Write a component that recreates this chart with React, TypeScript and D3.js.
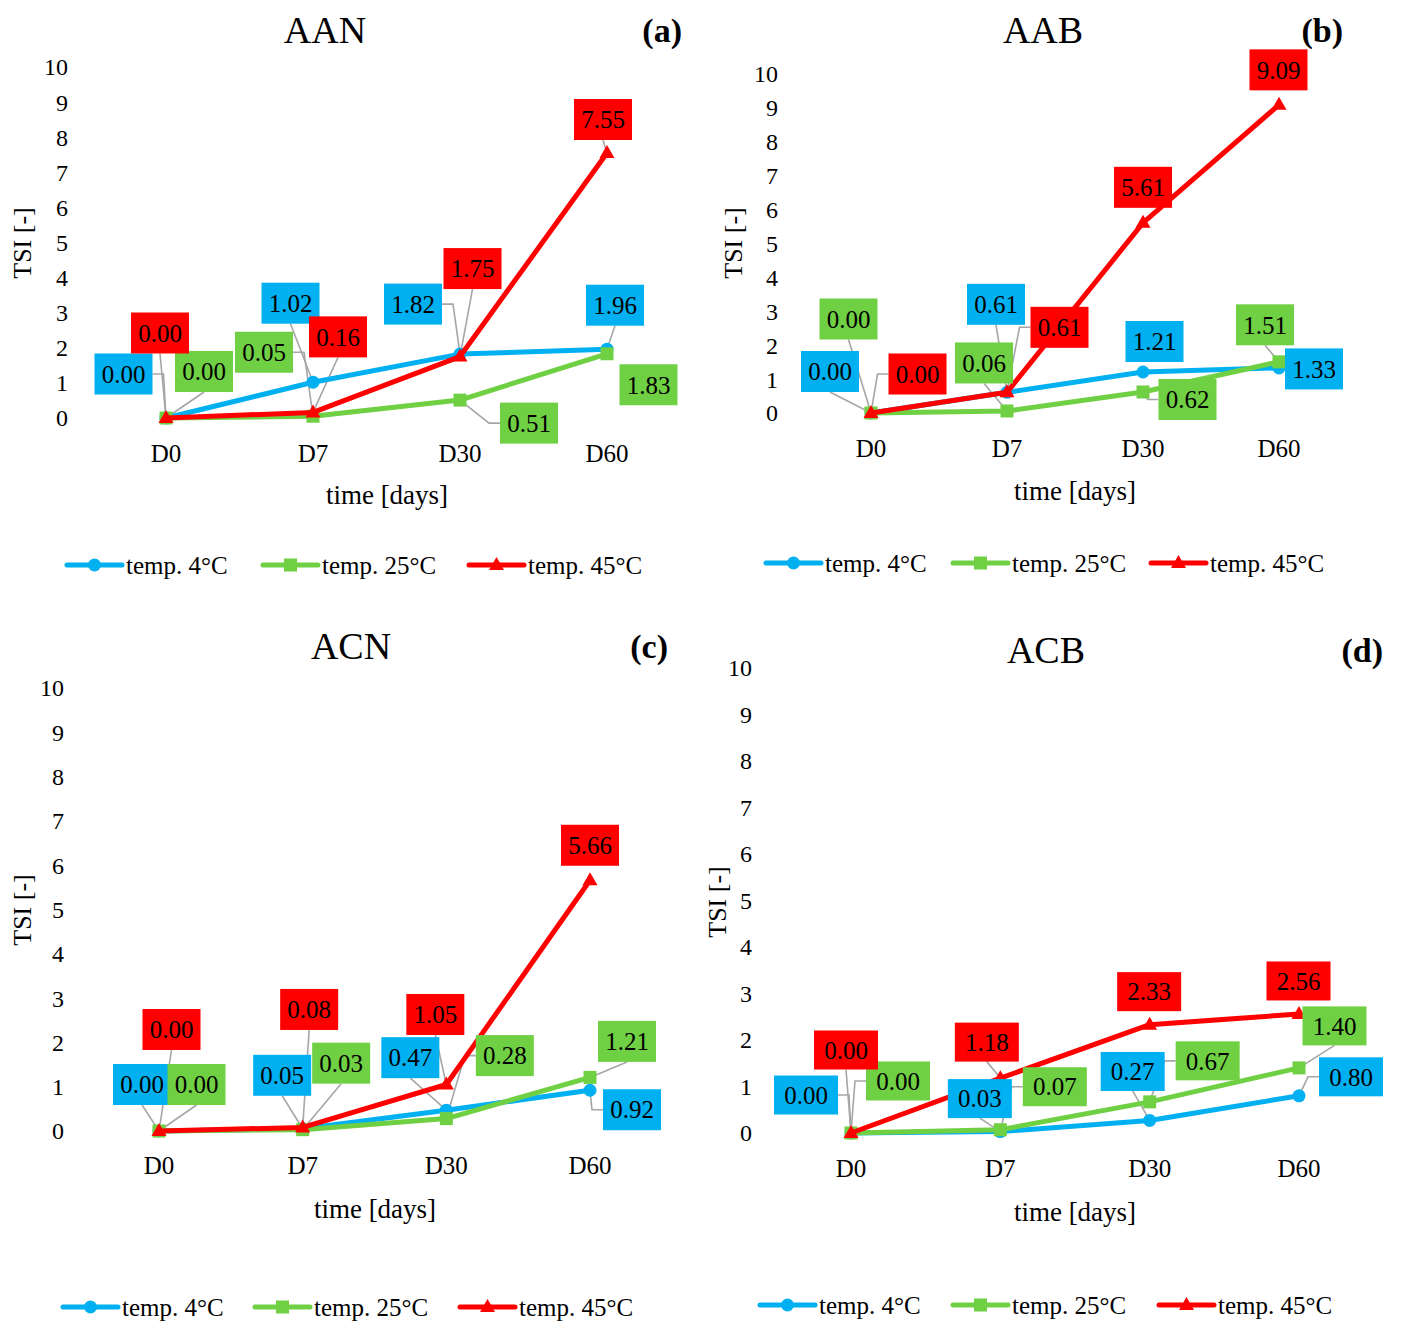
import React from "react";
import * as d3 from "d3";

// ---------- data ----------
const categories = ["D0", "D7", "D30", "D60"];
const seriesNames = ["temp. 4°C", "temp. 25°C", "temp. 45°C"];
const yTicks = [0, 1, 2, 3, 4, 5, 6, 7, 8, 9, 10];
const titles = ["AAN", "AAB", "ACN", "ACB"];
const panelTags = ["(a)", "(b)", "(c)", "(d)"];
const xAxisTitle = "time [days]";
const yAxisTitle = "TSI [-]";

const aan4 = [0, 1.02, 1.82, 1.96];
const aan25 = [0, 0.05, 0.51, 1.83];
const aan45 = [0, 0.16, 1.75, 7.55];

const aab4 = [0, 0.61, 1.21, 1.33];
const aab25 = [0, 0.06, 0.62, 1.51];
const aab45 = [0, 0.61, 5.61, 9.09];

const acn4 = [0, 0.05, 0.47, 0.92];
const acn25 = [0, 0.03, 0.28, 1.21];
const acn45 = [0, 0.08, 1.05, 5.66];

const acb4 = [0, 0.03, 0.27, 0.8];
const acb25 = [0, 0.07, 0.67, 1.4];
const acb45 = [0, 1.18, 2.33, 2.56];

const panelData = [
  [aan4, aan25, aan45],
  [aab4, aab25, aab45],
  [acn4, acn25, acn45],
  [acb4, acb25, acb45],
];

// ---------- style ----------
const colors = ["#00B0F0", "#70D044", "#FF0000"];
const markerShapes = ["circle", "square", "triangle"];
const FONT = "'Liberation Serif', 'Times New Roman', serif";
const LEADER = "#A6A6A6";

// ---------- layout ----------
type Layout = {
  x0: number; x1: number; y0: number; y10: number; tickRight: number;
  catY: number; xTitle: [number, number]; yTitle: [number, number];
  title: [number, number]; tagRight: number; legendY: number; legendX: number[];
  boxW: number; boxH: number;
};
const layouts: Layout[] = [
  { x0: 166, x1: 607, y0: 418, y10: 67, tickRight: 68, catY: 453, xTitle: [387, 495], yTitle: [22, 243], title: [325, 30], tagRight: 682, legendY: 565, legendX: [67, 263, 469], boxW: 58, boxH: 41 },
  { x0: 871, x1: 1279, y0: 413, y10: 74, tickRight: 778, catY: 448, xTitle: [1075, 491], yTitle: [733, 243], title: [1043, 30], tagRight: 1343, legendY: 563, legendX: [766, 953, 1151], boxW: 58, boxH: 41 },
  { x0: 159, x1: 590, y0: 1131, y10: 688, tickRight: 64, catY: 1165, xTitle: [375, 1209], yTitle: [22, 910], title: [351, 646], tagRight: 668, legendY: 1307, legendX: [63, 255, 460], boxW: 58, boxH: 41 },
  { x0: 851, x1: 1299, y0: 1133, y10: 668, tickRight: 752, catY: 1168, xTitle: [1075, 1212], yTitle: [717, 902], title: [1046, 650], tagRight: 1383, legendY: 1305, legendX: [760, 953, 1159], boxW: 64, boxH: 39 },
];

// label box offsets from the data point: [dx, dy, leader anchor]
// anchor: b = from box bottom, l = elbow from left side, r = elbow from right side, n = no leader
type Off = [number, number, string];
const labelOffsets: Off[][][] = [
  [
    [[-42.5, -44, "r"], [-22.5, -79, "b"], [-47, -50, "r"], [8, -44, "b"]],
    [[38, -46.5, "b"], [-49, -64, "r"], [69, 23, "l"], [41.5, 31, "n"]],
    [[-6, -85, "b"], [25, -75.5, "b"], [12.5, -88, "b"], [-4, -33.5, "b"]],
  ],
  [
    [[-41, -41.5, "b"], [-11, -88, "b"], [11.5, -30.5, "n"], [35, 1, "n"]],
    [[-22.5, -94, "b"], [-23, -48, "b"], [44.5, 7.5, "l"], [-14, -37, "b"]],
    [[46.5, -39, "l"], [52.5, -65, "l"], [0, -35.5, "n"], [-0.5, -35, "n"]],
  ],
  [
    [[-17, -46.5, "b"], [-20.5, -53.5, "b"], [-36, -52.5, "b"], [42, 19.5, "l"]],
    [[37.5, -46.5, "b"], [38.5, -66.5, "b"], [58.5, -63, "l"], [37, -36, "b"]],
    [[12.5, -101.5, "b"], [6.5, -118, "b"], [-11, -70, "b"], [0, -35, "n"]],
  ],
  [
    [[-45, -38, "r"], [-20.5, -33, "b"], [-17, -49, "b"], [52, -19, "l"]],
    [[47, -52, "l"], [54.5, -43, "l"], [58, -41, "l"], [35.5, -42, "b"]],
    [[-5, -83, "b"], [-13.5, -36, "b"], [-0.5, -33, "n"], [-0.5, -33, "n"]],
  ],
];

function Marker({ shape, x, y, color }: { shape: string; x: number; y: number; color: string }) {
  if (shape === "circle") return <circle cx={x} cy={y} r={6.5} fill={color} />;
  if (shape === "square") return <rect x={x - 6.5} y={y - 6.5} width={13} height={13} fill={color} />;
  return <path d={`M${x},${y - 8} L${x + 7.5},${y + 5} L${x - 7.5},${y + 5} Z`} fill={color} />;
}

function Panel({ idx }: { idx: number }) {
  const L = layouts[idx];
  const data = panelData[idx];
  const x = d3.scalePoint<string>().domain(categories).range([L.x0, L.x1]).padding(0);
  const y = d3.scaleLinear().domain([0, 10]).range([L.y0, L.y10]);
  const line = d3
    .line<number>()
    .x((_, i) => x(categories[i]) as number)
    .y((v) => y(v));

  const boxes: any[] = [];
  const leaders: any[] = [];
  data.forEach((vals, s) => {
    vals.forEach((v, i) => {
      const px = x(categories[i]) as number;
      const py = y(v);
      const [dx, dy, anchor] = labelOffsets[idx][s][i];
      const cx = px + dx;
      const cy = py + dy;
      const left = cx - L.boxW / 2;
      const right = cx + L.boxW / 2;
      const top = cy - L.boxH / 2;
      const bottom = cy + L.boxH / 2;
      let pts: [number, number][] | null = null;
      if (anchor === "b") pts = [[cx, bottom], [px, py]];
      else if (anchor === "l") pts = [[left, cy], [left - 11, cy], [px, py]];
      else if (anchor === "r") pts = [[right, cy], [right + 11, cy], [px, py]];
      if (pts)
        leaders.push(
          <polyline key={`ld${s}-${i}`} points={pts.map((p) => p.join(",")).join(" ")} fill="none" stroke={LEADER} strokeWidth={1.6} />
        );
      boxes.push(
        <g key={`bx${s}-${i}`}>
          <rect x={left} y={top} width={L.boxW} height={L.boxH} fill={colors[s]} />
          <text x={cx} y={cy} dy="0.35em" textAnchor="middle" fontSize={25} fill="#000">
            {v.toFixed(2)}
          </text>
        </g>
      );
    });
  });

  return (
    <g fontFamily={FONT}>
      <text x={L.title[0]} y={L.title[1]} dy="0.35em" textAnchor="middle" fontSize={38} fill="#000">
        {titles[idx]}
      </text>
      <text x={L.tagRight} y={L.title[1]} dy="0.35em" textAnchor="end" fontSize={34} fontWeight="bold" fill="#000">
        {panelTags[idx]}
      </text>
      {yTicks.map((t) => (
        <text key={t} x={L.tickRight} y={y(t)} dy="0.35em" textAnchor="end" fontSize={24} fill="#000">
          {t}
        </text>
      ))}
      {categories.map((c) => (
        <text key={c} x={x(c) as number} y={L.catY} dy="0.35em" textAnchor="middle" fontSize={25} fill="#000">
          {c}
        </text>
      ))}
      <text x={L.xTitle[0]} y={L.xTitle[1]} dy="0.35em" textAnchor="middle" fontSize={27} fill="#000">
        {xAxisTitle}
      </text>
      <text
        transform={`translate(${L.yTitle[0]},${L.yTitle[1]}) rotate(-90)`}
        dy="0.35em"
        textAnchor="middle"
        fontSize={26}
        fill="#000"
      >
        {yAxisTitle}
      </text>
      {leaders}
      {data.map((vals, s) => (
        <g key={`s${s}`}>
          <path d={line(vals) || ""} fill="none" stroke={colors[s]} strokeWidth={5} strokeLinejoin="round" strokeLinecap="round" />
          {vals.map((v, i) => (
            <Marker key={i} shape={markerShapes[s]} x={x(categories[i]) as number} y={y(v)} color={colors[s]} />
          ))}
        </g>
      ))}
      {boxes}
      {seriesNames.map((name, s) => {
        const lx = L.legendX[s];
        return (
          <g key={`lg${s}`}>
            <line x1={lx} x2={lx + 55} y1={L.legendY} y2={L.legendY} stroke={colors[s]} strokeWidth={5} strokeLinecap="round" />
            <Marker shape={markerShapes[s]} x={lx + 27.5} y={L.legendY} color={colors[s]} />
            <text x={lx + 59} y={L.legendY} dy="0.35em" fontSize={25} fill="#000">
              {name}
            </text>
          </g>
        );
      })}
    </g>
  );
}

export default function App() {
  return (
    <svg
      width={1402}
      height={1323}
      viewBox="0 0 1402 1323"
      style={{ position: "absolute", left: 0, top: 0, background: "#fff" }}
    >
      <rect x={0} y={0} width={1402} height={1323} fill="#fff" />
      {[0, 1, 2, 3].map((i) => (
        <Panel key={i} idx={i} />
      ))}
    </svg>
  );
}
